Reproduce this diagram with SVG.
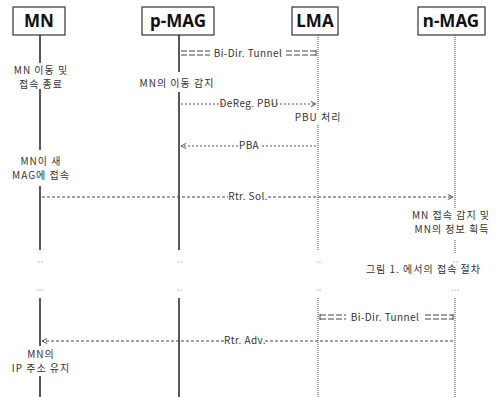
<svg xmlns="http://www.w3.org/2000/svg" width="501" height="397" viewBox="0 0 501 397">
<defs>
<style>
.box{fill:#fff;stroke:#333;stroke-width:1.2}
.hd{font-family:"Noto Sans","Noto Sans CJK KR",sans-serif;font-weight:bold;font-size:17px;fill:#111;text-anchor:middle}
.life{stroke:#222;stroke-width:1.5;fill:none}
.lifed{stroke:#444;stroke-width:1;stroke-dasharray:1 1;fill:none}
.t{font-family:"Noto Sans CJK KR","Noto Sans",sans-serif;font-size:10px;fill:#333;letter-spacing:0.4px}
.k{letter-spacing:1px}
.c{text-anchor:middle}
.r{text-anchor:end}
.msg{stroke:#444;stroke-width:1;stroke-dasharray:3 2;fill:none}
.msgd{stroke:#555;stroke-width:1;stroke-dasharray:2 2;fill:none}
.tun{stroke:#444;stroke-width:1;stroke-dasharray:6 2;fill:none}
.dot{fill:#777}
</style>
<marker id="ah" viewBox="0 0 8 8" refX="7" refY="4" markerWidth="7" markerHeight="7" orient="auto-start-reverse" markerUnits="userSpaceOnUse">
<path d="M1,1 L7,4 L1,7" fill="none" stroke="#444" stroke-width="1"/>
</marker>
</defs>
<rect width="501" height="397" fill="#fff"/>
<g id="node-MN">
<rect class="box" x="13" y="7" width="52" height="28"/>
<text class="hd" x="39" y="27">MN</text>
</g>
<g id="node-pMAG">
<rect class="box" x="142" y="7" width="72" height="28"/>
<text class="hd" x="178" y="27">p-MAG</text>
</g>
<g id="node-LMA">
<rect class="box" x="292" y="7" width="46" height="28"/>
<text class="hd" x="315" y="27">LMA</text>
</g>
<g id="node-nMAG">
<rect class="box" x="418" y="7" width="67" height="28"/>
<text class="hd" x="451" y="27">n-MAG</text>
</g>
<g id="lifelines">
<path class="life" d="M40,35 V63 M40,89 V150 M40,186 V250 M40,298 V346 M40,376 V397"/>
<path class="life" d="M179,35 V72 M179,92 V250 M179,298 V397"/>
<path class="lifed" d="M318,35 V110 M318,125 V250 M318,298 V397"/>
<path class="lifed" d="M455,35 V209 M455,240 V253 M455,298 V397"/>
</g>
<g id="dots">
<circle class="dot" cx="39" cy="262" r="0.6"/><circle class="dot" cx="42" cy="262" r="0.6"/>
<circle class="dot" cx="178" cy="262" r="0.6"/><circle class="dot" cx="181" cy="262" r="0.6"/>
<circle class="dot" cx="317" cy="262" r="0.6"/><circle class="dot" cx="320" cy="262" r="0.6"/>
<circle class="dot" cx="454" cy="262" r="0.6"/><circle class="dot" cx="457" cy="262" r="0.6"/>
<circle class="dot" cx="37" cy="290" r="0.6"/><circle class="dot" cx="40" cy="290" r="0.6"/><circle class="dot" cx="43" cy="290" r="0.6"/>
<circle class="dot" cx="178" cy="290" r="0.6"/><circle class="dot" cx="181" cy="290" r="0.6"/>
<circle class="dot" cx="317" cy="290" r="0.6"/><circle class="dot" cx="320" cy="290" r="0.6"/>
<circle class="dot" cx="452" cy="290" r="0.6"/><circle class="dot" cx="455" cy="290" r="0.6"/><circle class="dot" cx="458" cy="290" r="0.6"/>
</g>
<g id="connectors">
<path class="tun" d="M181,51 H210 M181,55 H210 M286,51 H316 M286,55 H316"/>
<path stroke="#444" stroke-width="1" d="M316,50 V56"/>
<text class="t c" x="248" y="57">Bi-Dir. Tunnel</text>
<path class="msgd" d="M181,104 H226 M272,104 H316" marker-end="url(#ah)"/>
<text class="t c" x="249" y="107">DeReg. PBU</text>
<path class="msgd" d="M316,146 H260 M238,146 H181" marker-end="url(#ah)"/>
<text class="t c" x="249" y="149">PBA</text>
<path class="msg" d="M42,197 H228 M268,197 H453" marker-end="url(#ah)"/>
<text class="t c" x="248" y="200">Rtr. Sol.</text>
<path class="tun" d="M320,315 H346 M320,319 H346 M425,315 H453 M425,319 H453"/>
<path stroke="#444" stroke-width="1" d="M320,314 V320 M453,314 V320"/>
<text class="t c" x="385" y="321">Bi-Dir. Tunnel</text>
<path class="msg" d="M453,341 H265 M224,341 H42" marker-end="url(#ah)"/>
<text class="t c" x="245" y="344">Rtr. Adv.</text>
</g>
<g id="labels">
<text class="t c k" x="41" y="74">MN 이동 및</text>
<text class="t c k" x="41" y="88">접속 종료</text>
<text class="t c k" x="177" y="87">MN의 이동 감지</text>
<text class="t c k" x="318" y="121">PBU 처리</text>
<text class="t c k" x="41" y="165">MN이 새</text>
<text class="t c k" x="41" y="179">MAG에 접속</text>
<text class="t c k" x="451" y="219">MN 접속 감지 및</text>
<text class="t c k" x="452" y="233">MN의 정보 획득</text>
<text class="t r k" x="481" y="273">그림 1. 에서의 접속 절차</text>
<text class="t c k" x="41" y="358">MN의</text>
<text class="t c k" x="41" y="372">IP 주소 유지</text>
</g>
</svg>
